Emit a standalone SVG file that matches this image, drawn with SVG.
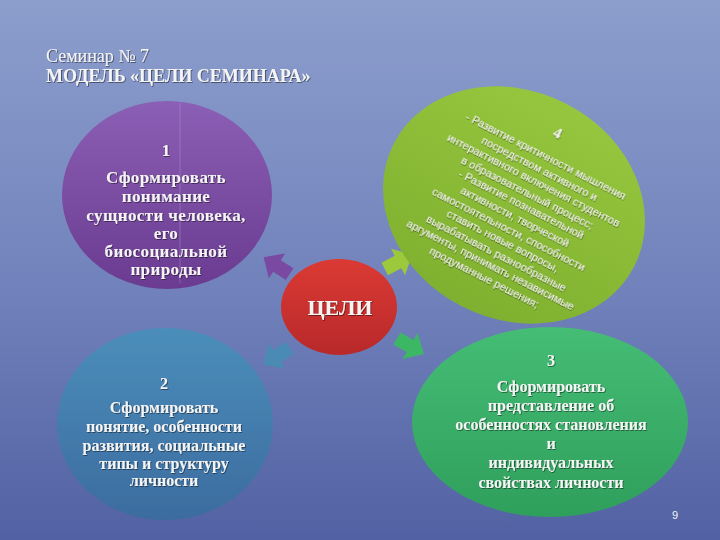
<svg xmlns="http://www.w3.org/2000/svg" width="720" height="540" viewBox="0 0 720 540">
<defs>
<linearGradient id="bg" x1="0" y1="0" x2="0" y2="1">
<stop offset="0" stop-color="#8c9ecc"/>
<stop offset="0.5" stop-color="#7384bd"/>
<stop offset="1" stop-color="#5261a3"/>
</linearGradient>
<linearGradient id="gPurple" x1="0" y1="0" x2="0" y2="1">
<stop offset="0" stop-color="#8b5fb5"/>
<stop offset="1" stop-color="#6a3b90"/>
</linearGradient>
<linearGradient id="gLime" x1="0" y1="0" x2="0" y2="1">
<stop offset="0" stop-color="#96c63e"/>
<stop offset="1" stop-color="#7fb02f"/>
</linearGradient>
<linearGradient id="gRed" x1="0" y1="0" x2="0" y2="1">
<stop offset="0" stop-color="#db3a33"/>
<stop offset="1" stop-color="#b8292b"/>
</linearGradient>
<linearGradient id="gBlue" x1="0" y1="0" x2="0" y2="1">
<stop offset="0" stop-color="#4b8ebb"/>
<stop offset="1" stop-color="#3c6c9f"/>
</linearGradient>
<linearGradient id="gGreen" x1="0" y1="0" x2="0" y2="1">
<stop offset="0" stop-color="#45bd75"/>
<stop offset="1" stop-color="#2f9f5c"/>
</linearGradient>
<filter id="ts" x="-10%" y="-10%" width="120%" height="130%">
<feDropShadow dx="0.8" dy="0.8" stdDeviation="0.4" flood-color="#000" flood-opacity="0.55"/>
</filter>
<polygon id="arr" points="-15,-7 0,-7 0,-15 16,0 0,15 0,7 -15,7"/>
</defs>
<style>
.t{font-family:"Liberation Serif","Times New Roman",serif;fill:#f4f4f4;text-anchor:middle;font-weight:bold;filter:url(#ts)}
.s{font-family:"Liberation Sans",Arial,sans-serif;fill:#f4f4f4;text-anchor:middle;font-size:11px;filter:url(#ts)}
</style>
<rect width="720" height="540" fill="url(#bg)"/>
<g id="title" filter="url(#ts)">
<text x="46" y="62" font-family="Liberation Serif, Times New Roman, serif" font-size="18" fill="#f4f4f4">Семинар № 7</text>
<text x="46" y="82" font-family="Liberation Serif, Times New Roman, serif" font-size="18" font-weight="bold" fill="#f4f4f4">МОДЕЛЬ «ЦЕЛИ СЕМИНАРА»</text>
</g>
<g id="connectors">
<use href="#arr" fill="#7a4aa2" transform="translate(277,266) rotate(-147)"/>
<use href="#arr" fill="#9cc83c" transform="translate(398,262) rotate(-28)"/>
<use href="#arr" fill="#4a8bb4" transform="translate(277,356) rotate(148)"/>
<use href="#arr" fill="#3cb864" transform="translate(410,346) rotate(30)"/>
</g>
<g id="node1">
<ellipse cx="167" cy="195" rx="105" ry="94" fill="url(#gPurple)"/>
<line x1="180" y1="103" x2="180" y2="283" stroke="#c8b4e0" stroke-width="1" opacity="0.3"/>
<text class="t" font-size="17" x="166" y="156">1</text>
<text class="t" font-size="17" x="166" y="183" letter-spacing="0.4">Сформировать</text>
<text class="t" font-size="17" x="166" y="202" letter-spacing="0.4">понимание</text>
<text class="t" font-size="17" x="166" y="221" letter-spacing="0.4">сущности человека,</text>
<text class="t" font-size="17" x="166" y="239" letter-spacing="0.4">его</text>
<text class="t" font-size="17" x="166" y="257" letter-spacing="0.4">биосоциальной</text>
<text class="t" font-size="17" x="166" y="275" letter-spacing="0.4">природы</text>
</g>
<g id="node4">
<ellipse cx="0" cy="0" rx="135" ry="114" fill="url(#gLime)" transform="translate(514,205) rotate(27)"/>
<g transform="translate(546,156) rotate(27)">
<text class="t" font-size="15" x="0" y="-21">4</text>
<text class="s" x="0" y="4">- Развитие критичности мышления</text>
<text class="s" x="0" y="17.6">посредством активного и</text>
<text class="s" x="0" y="31.2">интерактивного включения студентов</text>
<text class="s" x="0" y="44.8">в образовательный процесс;</text>
<text class="s" x="0" y="58.4">- Развитие познавательной</text>
<text class="s" x="0" y="72">активности, творческой</text>
<text class="s" x="0" y="85.6">самостоятельности, способности</text>
<text class="s" x="0" y="99.2">ставить новые вопросы,</text>
<text class="s" x="0" y="112.8">вырабатывать разнообразные</text>
<text class="s" x="0" y="126.4">аргументы, принимать независимые</text>
<text class="s" x="0" y="140">продуманные решения;</text>
</g>
</g>
<g id="node0">
<ellipse cx="339" cy="307" rx="58" ry="48" fill="url(#gRed)"/>
<text class="t" font-size="22" x="340" y="315">ЦЕЛИ</text>
</g>
<g id="node2">
<ellipse cx="165" cy="424" rx="108" ry="96" fill="url(#gBlue)"/>
<text class="t" font-size="16" x="164" y="389">2</text>
<text class="t" font-size="16" x="164" y="413">Сформировать</text>
<text class="t" font-size="16" x="164" y="432">понятие, особенности</text>
<text class="t" font-size="16" x="164" y="451">развития, социальные</text>
<text class="t" font-size="16" x="164" y="469">типы и структуру</text>
<text class="t" font-size="16" x="164" y="486">личности</text>
</g>
<g id="node3">
<ellipse cx="550" cy="422" rx="138" ry="95" fill="url(#gGreen)"/>
<text class="t" font-size="16" x="551" y="366">3</text>
<text class="t" font-size="16" x="551" y="392">Сформировать</text>
<text class="t" font-size="16" x="551" y="411">представление об</text>
<text class="t" font-size="16" x="551" y="430">особенностях становления</text>
<text class="t" font-size="16" x="551" y="449">и</text>
<text class="t" font-size="16" x="551" y="468">индивидуальных</text>
<text class="t" font-size="16" x="551" y="488">свойствах личности</text>
</g>
<text x="675" y="519" font-family="Liberation Sans, Arial, sans-serif" font-size="11" fill="#f4f4f4" text-anchor="middle">9</text>
</svg>
